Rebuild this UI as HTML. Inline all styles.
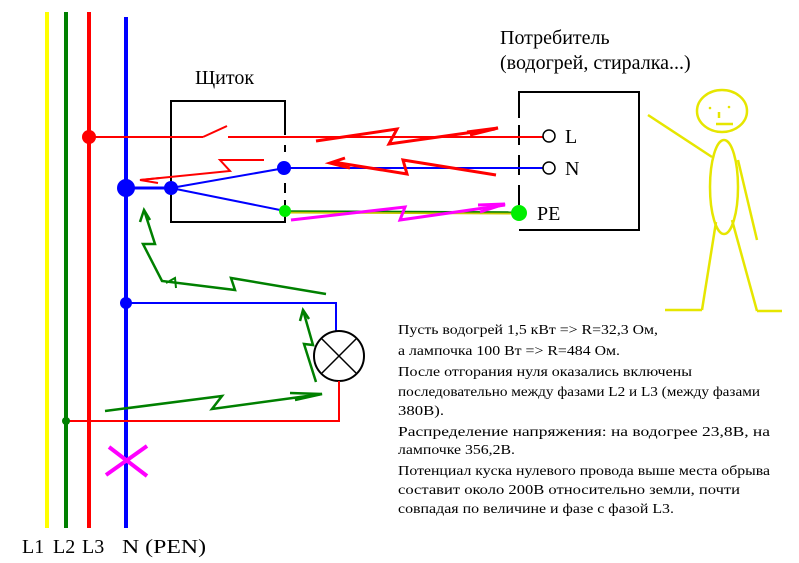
<!DOCTYPE html>
<html><head><meta charset="utf-8"><style>
body{margin:0;background:#fff}
svg{display:block}
text{font-family:"Liberation Serif",serif}
</style></head><body>
<svg width="799" height="563" viewBox="0 0 799 563" xmlns="http://www.w3.org/2000/svg">
<line x1="47" y1="12" x2="47" y2="528" stroke="#ffff00" stroke-width="4"/>
<line x1="66" y1="12" x2="66" y2="528" stroke="#008000" stroke-width="4"/>
<line x1="89" y1="12" x2="89" y2="528" stroke="#ff0000" stroke-width="4"/>
<line x1="126" y1="17" x2="126" y2="528" stroke="#0000ff" stroke-width="4"/>

<path d="M285 135 V101 H171 V222 H285 V200" fill="none" stroke="#000" stroke-width="2"/>
<line x1="285" y1="112" x2="285" y2="128" stroke="#000" stroke-width="2"/>
<line x1="285" y1="145" x2="285" y2="152" stroke="#000" stroke-width="2"/>
<line x1="285" y1="183" x2="285" y2="193" stroke="#000" stroke-width="2"/>
<path d="M519 118 V92 H639 V230 H519" fill="none" stroke="#000" stroke-width="2"/>
<line x1="519" y1="125" x2="519" y2="145" stroke="#000" stroke-width="2"/>
<line x1="519" y1="155" x2="519" y2="175" stroke="#000" stroke-width="2"/>
<line x1="519" y1="185" x2="519" y2="205" stroke="#000" stroke-width="2"/>

<line x1="89" y1="137" x2="203" y2="137" stroke="#f00" stroke-width="2"/>
<line x1="203" y1="137" x2="227" y2="126" stroke="#f00" stroke-width="2"/>
<line x1="228" y1="137" x2="543" y2="137" stroke="#f00" stroke-width="2"/>
<circle cx="89" cy="137" r="7" fill="#f00"/>
<line x1="126" y1="188" x2="171" y2="188" stroke="#00f" stroke-width="3"/>
<line x1="171" y1="188" x2="285" y2="168" stroke="#00f" stroke-width="2"/>
<line x1="171" y1="188" x2="285" y2="211" stroke="#00f" stroke-width="2"/>
<line x1="285" y1="168" x2="543" y2="168" stroke="#00f" stroke-width="2"/>
<line x1="285" y1="212" x2="519" y2="213" stroke="#c8c800" stroke-width="3"/>
<line x1="285" y1="211" x2="519" y2="212" stroke="#008000" stroke-width="1.5"/>
<circle cx="126" cy="188" r="9" fill="#00f"/>
<circle cx="171" cy="188" r="7" fill="#00f"/>
<circle cx="284" cy="168" r="7" fill="#00f"/>
<circle cx="285" cy="211" r="6" fill="#00ee00"/>
<circle cx="519" cy="213" r="8" fill="#00ee00"/>
<circle cx="549" cy="136" r="6" fill="#fff" stroke="#000" stroke-width="1.5"/>
<circle cx="549" cy="168" r="6" fill="#fff" stroke="#000" stroke-width="1.5"/>

<polyline points="316,141 397,129 389,144 495,129" fill="none" stroke="#f00" stroke-width="3"/>
<polyline points="467,132 498,128 470,135" fill="none" stroke="#f00" stroke-width="3"/>
<polyline points="496,175 403,160 407,174 333,162" fill="none" stroke="#f00" stroke-width="3"/>
<polyline points="345,158 330,163 350,168" fill="none" stroke="#f00" stroke-width="3"/>
<polyline points="264,160 220,160 230,171 140,180" fill="none" stroke="#f00" stroke-width="2"/>
<polyline points="160,178 140,180 158,183" fill="none" stroke="#f00" stroke-width="2"/>
<polyline points="291,220 405,207 400,220 505,205" fill="none" stroke="#ff00ff" stroke-width="3"/>
<polyline points="478,205 505,204 480,212" fill="none" stroke="#ff00ff" stroke-width="3"/>
<polyline points="326,294 231,278 235,290 162,281 143,244 155,244 144,210" fill="none" stroke="#008000" stroke-width="2.5"/>
<polyline points="140,222 144,210 150,220" fill="none" stroke="#008000" stroke-width="2.5"/>
<polyline points="166,283 175,278 176,288" fill="none" stroke="#008000" stroke-width="2"/>
<polyline points="316,382 304,344 313,345 303,310" fill="none" stroke="#008000" stroke-width="2.5"/>
<polyline points="300,321 303,310 309,319" fill="none" stroke="#008000" stroke-width="2.5"/>
<polyline points="105,411 222,396 212,409 322,394" fill="none" stroke="#008000" stroke-width="2.5"/>
<polyline points="290,393 322,394 295,400" fill="none" stroke="#008000" stroke-width="2.5"/>

<polyline points="126,303 336,303 336,331" fill="none" stroke="#00f" stroke-width="2"/>
<circle cx="126" cy="303" r="6" fill="#00f"/>
<circle cx="339" cy="356" r="25" fill="#fff" stroke="#000" stroke-width="2"/>
<line x1="322" y1="339" x2="356" y2="373" stroke="#000" stroke-width="1.5"/>
<line x1="356" y1="339" x2="322" y2="373" stroke="#000" stroke-width="1.5"/>
<polyline points="339,381 339,421 66,421" fill="none" stroke="#f00" stroke-width="2"/>
<circle cx="66" cy="421" r="4" fill="#008000"/>
<line x1="109" y1="447" x2="147" y2="476" stroke="#ff00ff" stroke-width="4"/>
<line x1="147" y1="446" x2="106" y2="475" stroke="#ff00ff" stroke-width="4"/>

<g fill="none" stroke="#e6e600" stroke-width="2.5">
<ellipse cx="722" cy="111" rx="25" ry="21"/>
<ellipse cx="724" cy="187" rx="14" ry="47"/>
<line x1="648" y1="115" x2="712" y2="157"/>
<line x1="738" y1="160" x2="757" y2="240"/>
<line x1="716" y1="222" x2="702" y2="310"/>
<line x1="665" y1="310" x2="702" y2="310"/>
<line x1="732" y1="220" x2="757" y2="311"/>
<line x1="757" y1="311" x2="782" y2="311"/>
<line x1="719" y1="112" x2="719" y2="118"/>
<line x1="716" y1="124" x2="733" y2="124"/>
</g>
<circle cx="710" cy="108" r="1.3" fill="#e6e600"/>
<circle cx="729" cy="107" r="1.3" fill="#e6e600"/>

<g font-size="20" fill="#000">
<text x="500" y="44">Потребитель</text>
<text x="500" y="69">(водогрей, стиралка...)</text>
<text x="195" y="84">Щиток</text>
<text x="565" y="143">L</text>
<text x="565" y="175">N</text>
<text x="537" y="220">PE</text>
<text x="22" y="553">L1</text>
<text x="53" y="553">L2</text>
<text x="82" y="553">L3</text>
<text x="122" y="553" textLength="84" lengthAdjust="spacingAndGlyphs">N (PEN)</text>
</g>
<g font-size="14" fill="#000">
<text x="398" y="334" textLength="260" lengthAdjust="spacingAndGlyphs">Пусть водогрей 1,5 кВт =&gt; R=32,3 Ом,</text>
<text x="398" y="355" textLength="222" lengthAdjust="spacingAndGlyphs">а лампочка 100 Вт =&gt; R=484 Ом.</text>
<text x="398" y="376" textLength="294" lengthAdjust="spacingAndGlyphs">После отгорания нуля оказались включены</text>
<text x="398" y="396" textLength="362" lengthAdjust="spacingAndGlyphs">последовательно между фазами L2 и L3 (между фазами</text>
<text x="398" y="415" textLength="46" lengthAdjust="spacingAndGlyphs">380В).</text>
<text x="398" y="436" textLength="372" lengthAdjust="spacingAndGlyphs">Распределение напряжения: на водогрее 23,8В, на</text>
<text x="398" y="454" textLength="117" lengthAdjust="spacingAndGlyphs">лампочке 356,2В.</text>
<text x="398" y="475" textLength="372" lengthAdjust="spacingAndGlyphs">Потенциал куска нулевого провода выше места обрыва</text>
<text x="398" y="494" textLength="342" lengthAdjust="spacingAndGlyphs">составит около 200В относительно земли, почти</text>
<text x="398" y="513" textLength="276" lengthAdjust="spacingAndGlyphs">совпадая по величине и фазе с фазой L3.</text>
</g>
</svg>
</body></html>
